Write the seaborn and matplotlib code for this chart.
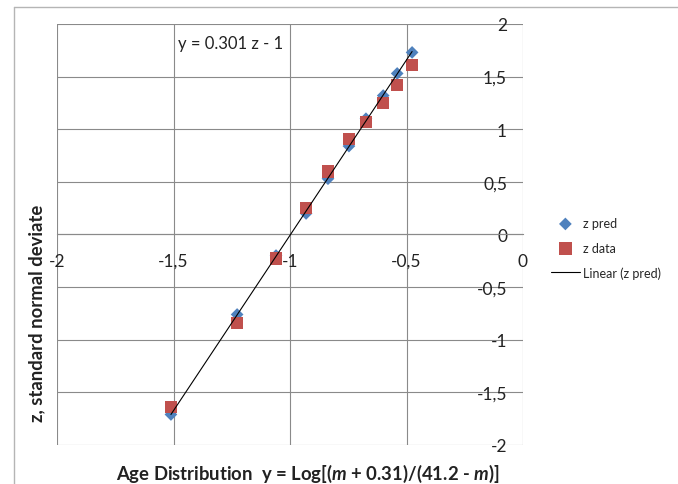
import matplotlib
matplotlib.use("Agg")
import matplotlib.pyplot as plt
import seaborn as sns
from matplotlib.lines import Line2D
from matplotlib.ticker import FuncFormatter, MultipleLocator

# Age distribution (x) vs standard normal deviate
age_dist = [-1.511, -1.227, -1.060, -0.931, -0.837, -0.747, -0.674, -0.600, -0.540, -0.476]
z_pred = [-1.71, -0.76, -0.20, 0.20, 0.53, 0.84, 1.10, 1.32, 1.53, 1.73]
z_data = [-1.64, -0.84, -0.23, 0.25, 0.60, 0.91, 1.07, 1.25, 1.42, 1.61]

equation = "y = 0.301 z - 1"
x_title = "Age Distribution  y = Log[($m$ + 0.31)/(41.2 - $m$)]"
y_title = "z, standard normal deviate"

sns.set_theme(style="white")
plt.rcParams["font.family"] = ["Lato", "DejaVu Sans"]
plt.rcParams["mathtext.fontset"] = "custom"
plt.rcParams["mathtext.it"] = "Lato:italic:bold"
plt.rcParams["mathtext.rm"] = "Lato:bold"

fig = plt.figure(figsize=(6.78, 4.85), dpi=100)
W, H = 678, 485
ax = fig.add_axes([57 / W, 1 - 446 / H, (523 - 57) / W, (446 - 25) / H])

grid_col = "#8a8a8a"

sns.scatterplot(x=age_dist, y=z_pred, marker="D", s=42, color="#4F81BD",
                edgecolor="none", label="z pred", ax=ax, zorder=3)
sns.scatterplot(x=age_dist, y=z_data, marker="s", s=80, color="#C0504D",
                edgecolor="none", label="z data", ax=ax, zorder=4)
sns.regplot(x=age_dist, y=z_pred, scatter=False, ci=None, truncate=True,
            line_kws=dict(color="black", lw=0.8, zorder=5),
            label="Linear (z pred)", ax=ax)

ax.set_xlim(-2, 0)
ax.set_ylim(-2, 2)
ax.xaxis.set_major_locator(MultipleLocator(0.5))
ax.yaxis.set_major_locator(MultipleLocator(0.5))
fmt = FuncFormatter(lambda v, p: f"{v:g}".replace(".", ","))
ax.xaxis.set_major_formatter(fmt)
ax.yaxis.set_major_formatter(fmt)
ax.grid(True, color=grid_col, lw=0.8)
ax.set_axisbelow(True)

for s in ["top", "left", "right"]:
    ax.spines[s].set_visible(False)
ax.spines["bottom"].set_position(("data", 0))
ax.spines["bottom"].set_color(grid_col)
ax.spines["bottom"].set_linewidth(0.8)

ax.yaxis.tick_right()
ax.tick_params(axis="y", length=0, pad=-11.5, labelsize=12.5, labelcolor="#222222")
for lab in ax.get_yticklabels():
    lab.set_horizontalalignment("right")
ax.tick_params(axis="x", length=0, pad=13, labelsize=12.5, labelcolor="#222222")
ax.set_xlabel("")
ax.set_ylabel("")

ax.text(178 / W, 1 - 44 / H, equation, transform=fig.transFigure,
        fontsize=12, va="center", ha="left", color="#222222")

fig.text(308 / W, 1 - 474 / H, x_title, ha="center", va="center",
         fontsize=13.3, fontweight="bold", color="#222222")
fig.text(37 / W, 1 - 313 / H, y_title, ha="center", va="center",
         rotation=90, fontsize=13.3, fontweight="bold", color="#222222")

ax.legend(loc="center left", bbox_to_anchor=(551 / W, 1 - 249 / H),
          bbox_transform=fig.transFigure, frameon=False, fontsize=9,
          borderpad=0, borderaxespad=0, handlelength=2.3, handletextpad=0.25,
          labelspacing=1.0)

# chart area border
fig.add_artist(Line2D([14 / W, 14 / W], [0, 1 - 8 / H], transform=fig.transFigure,
                      color="#b5b5b5", lw=1))
fig.add_artist(Line2D([14 / W, 1], [1 - 8 / H, 1 - 8 / H], transform=fig.transFigure,
                      color="#b5b5b5", lw=1))

fig.savefig("out.png", dpi=100)
plt.close(fig)
